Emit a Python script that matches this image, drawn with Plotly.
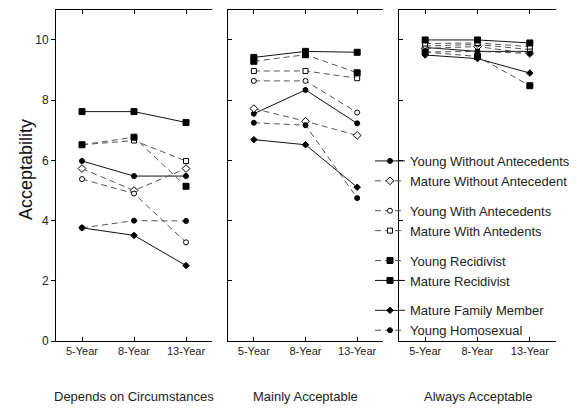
import plotly.graph_objects as go

categories = ["5-Year", "8-Year", "13-Year"]
panel_titles = ["Depends on Circumstances", "Mainly Acceptable", "Always Acceptable"]
y_ticks = [0, 2, 4, 6, 8, 10]

# values per panel: [Depends on Circumstances, Mainly Acceptable, Always Acceptable]
young_without_antecedents = [[5.98, 5.48, 5.48], [7.55, 8.34, 7.23], [9.75, 9.62, 9.62]]
mature_without_antecedent = [[5.73, 5.00, 5.73], [7.72, 7.30, 6.83], [9.72, 9.78, 9.55]]
young_with_antecedents = [[5.38, 4.90, 3.28], [8.64, 8.64, 7.59], [9.80, 9.85, 9.68]]
mature_with_antedents = [[6.52, 6.66, 5.98], [8.97, 8.97, 8.73], [9.88, 9.90, 9.78]]
young_recidivist = [[6.52, 6.77, 5.14], [9.29, 9.51, 8.91], [9.60, 9.45, 8.48]]
mature_recidivist = [[7.62, 7.62, 7.26], [9.42, 9.62, 9.59], [10.0, 10.0, 9.90]]
mature_family_member = [[3.76, 3.51, 2.51], [6.69, 6.52, 5.11], [9.50, 9.38, 8.90]]
young_homosexual = [[3.76, 4.00, 3.99], [7.25, 7.17, 4.75], [9.60, 9.62, 9.55]]

FONT = "Liberation Sans, Arial, sans-serif"
SOLID = "#111111"
DASHC = "#555555"
DASH = "6px,4px"

series = [
    # name, data, dashed, symbol, filled, size, group
    ("Young Without Antecedents", young_without_antecedents, False, "circle", True, 5, "g1"),
    ("Mature Without Antecedent", mature_without_antecedent, True, "diamond", False, 6, "g1"),
    ("Young With Antecedents", young_with_antecedents, True, "circle", False, 5, "g2"),
    ("Mature With Antedents", mature_with_antedents, True, "square", False, 5, "g2"),
    ("Young Recidivist", young_recidivist, True, "square", True, 6, "g3"),
    ("Mature Recidivist", mature_recidivist, False, "square", True, 6, "g3"),
    ("Mature Family Member", mature_family_member, False, "diamond", True, 5, "g4"),
    ("Young Homosexual", young_homosexual, True, "circle", True, 5, "g4"),
]

fig = go.Figure()
for name, data, dashed, sym, filled, size, grp in series:
    for p in range(3):
        ax = "" if p == 0 else str(p + 1)
        fig.add_trace(go.Scatter(
            x=categories, y=data[p], mode="lines+markers", name=name,
            xaxis="x" + ax, yaxis="y" + ax,
            legendgroup=grp, showlegend=(p == 0),
            line=dict(color=DASHC if dashed else SOLID, width=1,
                      dash=DASH if dashed else "solid"),
            marker=dict(symbol=sym, size=size,
                        color="#000000" if filled else "#ffffff",
                        line=dict(color="#000000", width=1)),
        ))

W, H = 577, 412
xdoms = [(56, 212), (228, 383), (399, 556)]
ytop, ybot = 10, 347
ydom = [1 - ybot / H, 1 - ytop / H]

layout = dict(
    width=W, height=H, margin=dict(l=0, r=0, t=0, b=0),
    paper_bgcolor="white", plot_bgcolor="white",
    font=dict(family=FONT, color="#222222", size=11),
    legend=dict(x=370 / W, y=1 - 148.5 / H, xanchor="left", yanchor="top",
                bgcolor="rgba(0,0,0,0)", borderwidth=0,
                font=dict(family=FONT, size=13, color="#222222"),
                traceorder="grouped", tracegroupgap=10, itemwidth=30),
    annotations=[],
)
for p in range(3):
    ax = "" if p == 0 else str(p + 1)
    layout["xaxis" + ax] = dict(
        domain=[xdoms[p][0] / W, xdoms[p][1] / W], anchor="y" + ax,
        type="category", range=[-0.5, 2.5],
        showline=True, linecolor="#000000", linewidth=1, mirror="ticks",
        ticks="inside", ticklen=4, tickcolor="#000000",
        showgrid=False, zeroline=False,
        tickfont=dict(size=11, color="#222222"),
    )
    layout["yaxis" + ax] = dict(
        domain=ydom, anchor="x" + ax, range=[0, 11],
        tickvals=y_ticks, showticklabels=(p == 0),
        ticks="outside" if p == 0 else "inside", ticklen=4, tickcolor="#000000",
        showline=True, linecolor="#000000", linewidth=1, mirror=False,
        showgrid=False, zeroline=False,
        tickfont=dict(size=12, color="#222222"),
    )
    layout["yaxis" + str(p + 4)] = dict(
        overlaying="y" + ax, anchor="x" + ax, side="right", range=[0, 8], dtick=1,
        ticks="inside", ticklen=4, tickcolor="#000000", showticklabels=False,
        showline=True, linecolor="#000000", linewidth=1,
        showgrid=False, zeroline=False,
    )
    layout["annotations"].append(dict(
        text=panel_titles[p], xref="paper", yref="paper",
        x=(xdoms[p][0] + xdoms[p][1]) / 2 / W, y=1 - 403 / H,
        xanchor="center", yanchor="middle", showarrow=False,
        font=dict(size=13, color="#222222", family=FONT),
    ))

layout["annotations"].append(dict(
    text="Acceptability", xref="paper", yref="paper",
    x=26 / W, y=1 - 173 / H, xanchor="center", yanchor="middle",
    textangle=-90, showarrow=False,
    font=dict(size=18, color="#111111", family=FONT),
))

fig.update_layout(**layout)
fig.write_html("out.html", config={"displayModeBar": False},
               post_script="document.body.style.margin='0px';")
